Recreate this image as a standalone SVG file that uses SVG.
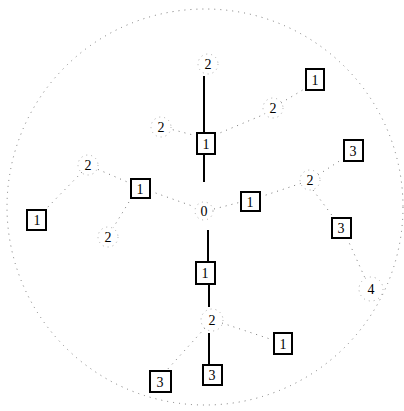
<svg xmlns="http://www.w3.org/2000/svg" width="404" height="411" viewBox="0 0 404 411">
<style>
.box{fill:#fff;stroke:#000;stroke-width:2}
.lbl{font-family:"Liberation Serif",serif;font-size:14px;text-anchor:middle;dominant-baseline:central;fill:#000}
.ring{fill:none;stroke:#aaa;stroke-width:1;stroke-dasharray:1 4}
.dot{fill:none;stroke:#777;stroke-width:1;stroke-dasharray:1 5}
.solid{stroke:#000;stroke-width:2}
</style>
<rect width="404" height="411" fill="#fff"/>
<circle cx="205" cy="207" r="198" class="dot"/>
<g id="connectors">
<line class="solid" x1="204" y1="76" x2="204" y2="133"/>
<line class="solid" x1="204" y1="154" x2="204" y2="182"/>
<line class="solid" x1="208" y1="230" x2="208" y2="262"/>
<line class="solid" x1="209" y1="284" x2="209" y2="307"/>
<line class="solid" x1="209" y1="333" x2="209" y2="365"/>
<line class="dot" x1="150" y1="191" x2="195" y2="207"/>
<line class="dot" x1="214" y1="209" x2="241" y2="202"/>
<line class="dot" x1="132" y1="184" x2="97" y2="169"/>
<line class="dot" x1="132" y1="197" x2="113" y2="228"/>
<line class="dot" x1="82" y1="172" x2="45" y2="210"/>
<line class="dot" x1="197" y1="136" x2="170" y2="129"/>
<line class="dot" x1="215" y1="135" x2="265" y2="114"/>
<line class="dot" x1="281" y1="103" x2="306" y2="88"/>
<line class="dot" x1="260" y1="197" x2="302" y2="183"/>
<line class="dot" x1="318" y1="175" x2="344" y2="158"/>
<line class="dot" x1="313" y1="190" x2="334" y2="218"/>
<line class="dot" x1="347" y1="238" x2="365" y2="278"/>
<line class="dot" x1="205" y1="328" x2="166" y2="371"/>
<line class="dot" x1="222" y1="323" x2="273" y2="340"/>
</g>
<g id="n0"><circle cx="204" cy="211" r="9" class="ring"/><text x="204" y="211" class="lbl">0</text></g>
<g id="n2top"><circle cx="208" cy="64" r="10" class="ring"/><text x="208" y="64" class="lbl">2</text></g>
<g id="n1top"><rect x="197" y="133" width="18" height="21" class="box"/><text x="206" y="144" class="lbl">1</text></g>
<g id="n2ul"><circle cx="161" cy="127" r="10" class="ring"/><text x="161" y="127" class="lbl">2</text></g>
<g id="n2ur"><circle cx="273" cy="108" r="10" class="ring"/><text x="273" y="108" class="lbl">2</text></g>
<g id="n1tr"><rect x="306" y="69" width="18" height="21" class="box"/><text x="315" y="80" class="lbl">1</text></g>
<g id="n1l"><rect x="131" y="179" width="19" height="19" class="box"/><text x="140" y="189" class="lbl">1</text></g>
<g id="n2lu"><circle cx="88" cy="165" r="10" class="ring"/><text x="88" y="165" class="lbl">2</text></g>
<g id="n2ll"><circle cx="108" cy="237" r="10" class="ring"/><text x="108" y="237" class="lbl">2</text></g>
<g id="n1fl"><rect x="27" y="210" width="19" height="20" class="box"/><text x="37" y="220" class="lbl">1</text></g>
<g id="n1r"><rect x="241" y="192" width="19" height="19" class="box"/><text x="250" y="202" class="lbl">1</text></g>
<g id="n2r"><circle cx="310" cy="180" r="10" class="ring"/><text x="310" y="180" class="lbl">2</text></g>
<g id="n3ru"><rect x="344" y="140" width="19" height="21" class="box"/><text x="353" y="151" class="lbl">3</text></g>
<g id="n3rl"><rect x="332" y="218" width="19" height="20" class="box"/><text x="341" y="228" class="lbl">3</text></g>
<g id="n4"><circle cx="371" cy="289" r="12" class="ring"/><text x="371" y="289" class="lbl">4</text></g>
<g id="n1b"><rect x="196" y="262" width="19" height="22" class="box"/><text x="205" y="273" class="lbl">1</text></g>
<g id="n2b"><circle cx="212" cy="320" r="11" class="ring"/><text x="212" y="320" class="lbl">2</text></g>
<g id="n3bc"><rect x="203" y="365" width="19" height="20" class="box"/><text x="212" y="375" class="lbl">3</text></g>
<g id="n3bl"><rect x="150" y="371" width="21" height="21" class="box"/><text x="160" y="382" class="lbl">3</text></g>
<g id="n1br"><rect x="274" y="333" width="18" height="21" class="box"/><text x="283" y="344" class="lbl">1</text></g>
</svg>
